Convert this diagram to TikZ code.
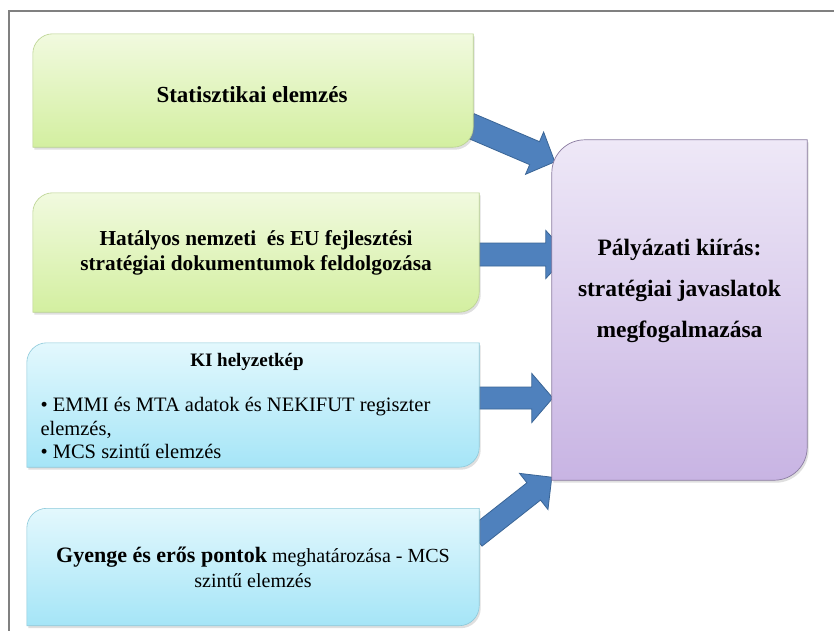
\documentclass[tikz,border=0pt]{standalone}
\usepackage{fontspec}
\setmainfont{Liberation Serif}
\usetikzlibrary{calc,shadows}
\pgfdeclarelayer{bglayer}
\pgfdeclarelayer{arrowlayer}
\pgfdeclarelayer{boxlayer}
\pgfsetlayers{bglayer,arrowlayer,boxlayer,main}

\definecolor{frameGray}{HTML}{808080}
\definecolor{greenTop}{HTML}{F1FADF}
\definecolor{greenBot}{HTML}{D3EFA0}
\definecolor{greenEdge}{HTML}{B9D28F}
\definecolor{blueTop}{HTML}{E3F8FD}
\definecolor{blueBot}{HTML}{A5E5F7}
\definecolor{blueEdge}{HTML}{8CC9DA}
\definecolor{purpTop}{HTML}{EEE8F7}
\definecolor{purpBot}{HTML}{C8B4E3}
\definecolor{purpEdge}{HTML}{8A7BA0}
\definecolor{arrFill}{HTML}{4F81BD}
\definecolor{arrEdge}{HTML}{3A6596}

\newcommand\diagshape[3]{%
  \path[#3] (#1.south west) -- ([yshift=-#2]#1.north west)
    arc[start angle=180,end angle=90,radius=#2] -- (#1.north east)
    -- ([yshift=#2]#1.south east)
    arc[start angle=0,end angle=-90,radius=#2] -- cycle;}

\newcommand\blockarr[5]{%
  \coordinate (abase) at ($(#2)!#5!(#1)$);
  \path[arrowstyle] ($(#1)!#3!90:(#2)$) -- ($(abase)!#3!-90:(#1)$)
    -- ($(abase)!#4!-90:(#1)$) -- (#2) -- ($(abase)!#4!90:(#1)$)
    -- ($(abase)!#3!90:(#1)$) -- ($(#1)!#3!-90:(#2)$) -- cycle;}

\begin{document}
\begin{tikzpicture}[x=1pt,y=1pt,
  boxnode/.style={rectangle,inner sep=0pt,align=center},
  greenbox/.style={top color=greenTop,bottom color=greenBot,draw=greenEdge,line width=0.6pt,
    drop shadow={opacity=0.25,shadow xshift=1.5pt,shadow yshift=-2.5pt}},
  bluebox/.style={top color=blueTop,bottom color=blueBot,draw=blueEdge,line width=0.6pt,
    drop shadow={opacity=0.25,shadow xshift=1.5pt,shadow yshift=-2.5pt}},
  purpbox/.style={top color=purpTop,bottom color=purpBot,draw=purpEdge,line width=0.7pt,
    drop shadow={opacity=0.25,shadow xshift=1.5pt,shadow yshift=-2.5pt}},
  arrowstyle/.style={fill=arrFill,draw=arrEdge,line width=0.8pt,line join=miter},
  regtxt/.style={font={\fontsize{20.5}{23.5}\selectfont}}]
\useasboundingbox (0,0) rectangle (834,-630);
\begin{pgfonlayer}{bglayer}
\fill[white] (0,0) rectangle (834,-630);
\end{pgfonlayer}
\draw[frameGray,line width=2pt] (836,-11) -- (9,-11) -- (9,-632);

% nodes
\node[boxnode,minimum width=440pt,minimum height=113pt] (b1) at (253,-90.5) {};
\node[font={\fontsize{23}{25}\selectfont\bfseries}] (t1) at (252,-95) {Statisztikai elemzés};
\node[boxnode,minimum width=446pt,minimum height=119pt,
  font={\fontsize{21.3}{25}\selectfont\bfseries}] (b2) at (256,-252.5)
  {Hatályos nemzeti \ és EU fejlesztési\\stratégiai dokumentumok feldolgozása};
\node[boxnode,minimum width=452pt,minimum height=124pt] (b3) at (253,-405) {};
\node[font={\fontsize{19}{25}\selectfont\bfseries}] (t3) at (247,-362) {KI helyzetkép};
\node[regtxt,anchor=west,align=left] (l3) at (37,-428)
  {• EMMI és MTA adatok és NEKIFUT regiszter\\elemzés,\\• MCS szintű elemzés};
\node[boxnode,minimum width=452pt,minimum height=117pt,
  font={\fontsize{20}{25}\selectfont}] (b4) at (253,-567)
  {{\fontsize{22}{25}\selectfont\bfseries Gyenge és erős pontok} meghatározása - MCS\\szintű elemzés};
\node[boxnode,minimum width=255pt,minimum height=340pt] (p) at (679.5,-310) {};
\node[align=center,font={\fontsize{23.5}{41}\selectfont\bfseries}] (pt) at (679.5,-291)
  {Pályázati kiírás:\\stratégiai javaslatok\\megfogalmazása};

% box shapes
\begin{pgfonlayer}{boxlayer}
\diagshape{b1}{20pt}{greenbox}
\diagshape{b2}{20pt}{greenbox}
\diagshape{b3}{20pt}{bluebox}
\diagshape{b4}{20pt}{bluebox}
\diagshape{p}{33pt}{purpbox}
\end{pgfonlayer}

% arrows
\coordinate (a1s) at ($(b1.south east)+(-4,22)$);
\coordinate (a1e) at ($(p.north west)+(3,-22)$);
\coordinate (a2s) at ($(b2.east)+(-4,-2)$);
\coordinate (a2e) at ($(a2s -| p.west)+(16,0)$);
\coordinate (a3s) at ($(b3.east)+(-4,7)$);
\coordinate (a3e) at ($(a3s -| p.west)+(1,0)$);
\coordinate (a4s) at ($(b4.east)+(-4,29.5)$);
\coordinate (a4e) at ($(p.south west)+(0,3)$);
\begin{pgfonlayer}{arrowlayer}
\blockarr{a1s}{a1e}{12.5pt}{23pt}{22pt}
\blockarr{a2s}{a2e}{11.5pt}{24pt}{22pt}
\blockarr{a3s}{a3e}{11pt}{24.5pt}{21pt}
\blockarr{a4s}{a4e}{11pt}{23pt}{23pt}
\end{pgfonlayer}
\end{tikzpicture}
\end{document}
